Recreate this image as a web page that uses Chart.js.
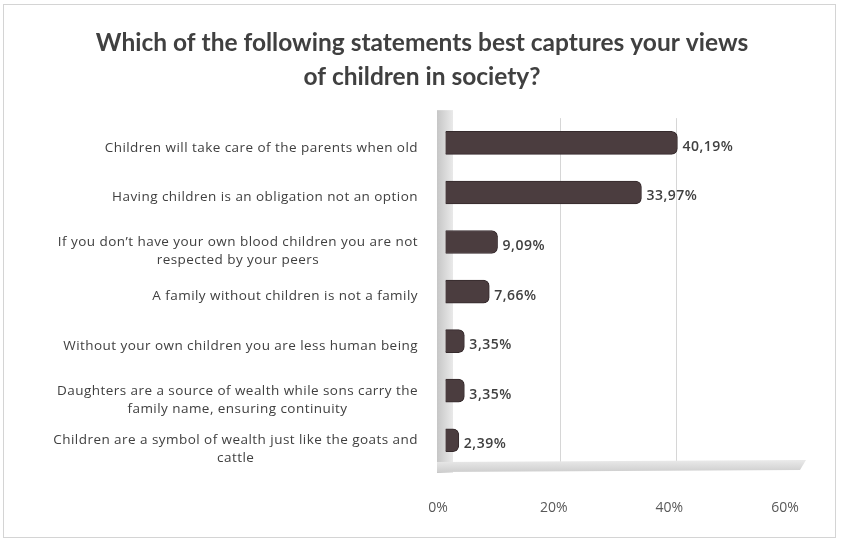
<!DOCTYPE html>
<html lang="en">
<head>
<meta charset="UTF-8">
<title>Views of children in society</title>
<script src="https://cdn.jsdelivr.net/npm/chart.js"></script>
<style>
  html, body { margin: 0; padding: 0; background: #fff; }
  #wrap { position: relative; width: 844px; height: 544px; }
  #frame {
    position: absolute; left: 3px; top: 4px; width: 833px; height: 534px;
    border: 1px solid #d4d4d4; box-sizing: border-box;
  }
  #viewsChart { position: absolute; left: 0; top: 0; }
</style>
</head>
<body>
<div id="wrap">
  <div id="frame"></div>
  <canvas id="viewsChart" width="844" height="544"></canvas>
</div>
<script>
// statements (multi-line ones split where they wrap)
const statements = [
  ['Children will take care of the parents when old'],
  ['Having children is an obligation not an option'],
  ['If you don\u2019t have your own blood children you are not', 'respected by your peers'],
  ['A family without children is not a family'],
  ['Without your own children you are less human being'],
  ['Daughters are a source of wealth while sons carry the', 'family name, ensuring continuity'],
  ['Children are a symbol of wealth just like the goats and', 'cattle']
];
const shares = [40.19, 33.97, 9.09, 7.66, 3.35, 3.35, 2.39];
const axisTicks = [0, 20, 40, 60];

const TEXT = '#404040';

// grey side wall and floor behind the bars
const wallPlugin = {
  id: 'walls',
  beforeDatasetsDraw(chart) {
    const { ctx, chartArea: a } = chart;
    ctx.save();
    let g = ctx.createLinearGradient(a.left - 8, 0, a.left + 10, 0);
    g.addColorStop(0, '#c6c6c6');
    g.addColorStop(1, '#eeeeee');
    ctx.fillStyle = g;
    ctx.fillRect(a.left - 8, a.top - 8, 16, a.bottom - a.top + 16);
    g = ctx.createLinearGradient(0, a.bottom - 4, 0, a.bottom + 8);
    g.addColorStop(0, '#e8e8e8');
    g.addColorStop(1, '#cccccc');
    ctx.fillStyle = g;
    ctx.beginPath();
    ctx.moveTo(a.left - 8, a.bottom - 3);
    ctx.lineTo(a.right + 14, a.bottom - 5);
    ctx.lineTo(a.right + 8, a.bottom + 5);
    ctx.lineTo(a.left - 8, a.bottom + 7);
    ctx.closePath();
    ctx.fill();
    ctx.restore();
  }
};

// category labels: right-aligned block, lines centred inside it
const categoryLabels = {
  id: 'categoryLabels',
  afterDraw(chart) {
    const { ctx } = chart;
    const y = chart.scales.y;
    const rightEdge = chart.chartArea.left - 27;
    const lineH = 18;
    ctx.save();
    ctx.font = '13.5px "Open Sans"';
    ctx.letterSpacing = '0.45px';
    ctx.fillStyle = TEXT;
    ctx.textAlign = 'center';
    ctx.textBaseline = 'middle';
    statements.forEach((lines, i) => {
      const w = Math.max(...lines.map(l => ctx.measureText(l).width));
      const cx = rightEdge - w / 2;
      const cy = y.getPixelForValue(i) + (lines.length > 1 ? 9 : 5);
      lines.forEach((l, j) => {
        ctx.fillText(l, cx, cy + (j - (lines.length - 1) / 2) * lineH);
      });
    });
    ctx.restore();
  }
};

// percentage label at the end of each bar
const valueLabels = {
  id: 'valueLabels',
  afterDatasetsDraw(chart) {
    const { ctx } = chart;
    const meta = chart.getDatasetMeta(0);
    ctx.save();
    ctx.font = '600 14px "Open Sans"';
    ctx.letterSpacing = '0.5px';
    ctx.fillStyle = TEXT;
    ctx.textAlign = 'left';
    ctx.textBaseline = 'middle';
    meta.data.forEach((bar, i) => {
      const txt = shares[i].toFixed(2).replace('.', ',') + '%';
      ctx.fillText(txt, bar.x + 5, bar.y + 4);
    });
    ctx.restore();
  }
};

new Chart(document.getElementById('viewsChart'), {
  type: 'bar',
  data: {
    labels: statements.map(s => s.join(' ')),
    datasets: [{
      data: shares,
      backgroundColor: '#4b3d3f',
      borderColor: '#352a2c',
      borderWidth: 1,
      borderSkipped: 'start',
      borderRadius: { topRight: 6, bottomRight: 6 },
      barThickness: 23
    }]
  },
  options: {
    indexAxis: 'y',
    responsive: false,
    animation: false,
    layout: { padding: { top: 10, bottom: 29, left: 52, right: 52 } },
    plugins: {
      legend: { display: false },
      tooltip: { enabled: false },
      title: {
        display: true,
        text: ['Which of the following statements best captures your views', 'of children in society?'],
        color: TEXT,
        font: { family: 'Lato', size: 24.5, weight: 'bold', lineHeight: 1.35 },
        padding: { top: 17, bottom: 25 }
      }
    },
    scales: {
      x: {
        min: axisTicks[0],
        max: axisTicks[axisTicks.length - 1],
        afterBuildTicks(scale) { scale.ticks = axisTicks.map(v => ({ value: v })); },
        afterFit(scale) { scale.height = 50; },
        border: { display: false },
        grid: {
          drawTicks: false,
          color: c => (c.tick && c.tick.value > 0 && c.tick.value < 60) ? '#d6d6d6' : 'rgba(0,0,0,0)'
        },
        ticks: {
          padding: 35,
          labelOffset: -7,
          color: '#595959',
          font: { family: 'Open Sans', size: 14 },
          callback: v => v + '%'
        }
      },
      y: {
        border: { display: false },
        grid: { display: false, drawTicks: false },
        ticks: { display: false },
        afterFit(scale) { scale.width = 393; }
      }
    }
  },
  plugins: [wallPlugin, categoryLabels, valueLabels]
});
</script>
</body>
</html>
